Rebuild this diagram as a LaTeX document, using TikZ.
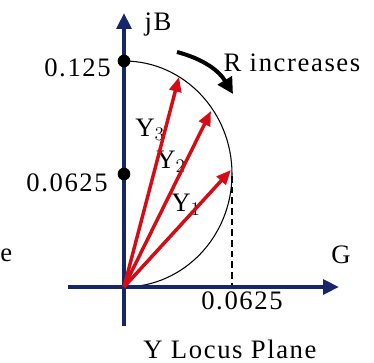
\documentclass[tikz,border=0pt]{standalone}
\usepackage{fontspec}
\setmainfont[LetterSpace=6]{Liberation Serif}
\usepackage{tikz}
\usetikzlibrary{arrows.meta}
\definecolor{axisblue}{RGB}{22,38,104}
\definecolor{vecred}{RGB}{212,12,22}

\begin{document}
\begin{tikzpicture}[x=0.75pt, y=-0.75pt,
		axis/.style={axisblue, line width=3pt, -{Triangle[length=12pt, width=11pt]}},
		vec/.style={vecred, line width=2.6pt, -{Triangle[length=11pt, width=9pt]}},
		lbl/.style={font=\fontsize{20}{24}\selectfont, inner sep=0pt},
		dot/.style={circle, fill=black, inner sep=0pt, minimum size=9.5pt}]
			\useasboundingbox (0, 0) rectangle (374, 363);
			% Points of the plane:
			\coordinate (O) at (124, 287);
			\coordinate (Xl) at (68, 287);
			\coordinate (Xr) at (339, 287);
			\coordinate (Yb) at (124, 326);
			\coordinate (Yt) at (124, 13);
			\coordinate (C) at (124, 174);
			\coordinate (Gm) at (232, 176);
			\coordinate (Gx) at (232, 287);
			\coordinate (T1) at (231, 170);
			\coordinate (T2) at (211, 111);
			\coordinate (T3) at (179, 77);
			\coordinate (Ra) at (177, 52);
			\coordinate (Rb) at (233, 94);
			% Locus and guide:
			\draw[line width=0.8pt] (124, 61) arc[start angle=90, end angle=-90, x radius=108, y radius=-113];
			\draw[line width=0.9pt, dash pattern=on 5pt off 3pt] (Gm) -- (Gx);
			% Axes:
			\draw[axis] (Xl) -- (Xr);
			\draw[axis] (Yb) -- (Yt);
			\node[dot](P1) at (124, 61){};
			\node[dot](P2) at (C){};
			% Labels:
			\node[lbl] (jB) at (158, 25){jB};
			\node[lbl, anchor=east] (L1) at (111, 68){0.125};
			\node[lbl, anchor=east] (L2) at (108, 183){0.0625};
			\node[lbl] (L3) at (242, 301){0.0625};
			\node[lbl] (G) at (341, 255){G};
			\node[lbl, anchor=west] (e) at (0, 255){e};
			\node[lbl] (R) at (292, 63){R increases};
			\node[lbl] (title) at (230, 349){Y Locus Plane};
			\node[lbl] (Y3) at (150, 130){Y$_3$};
			\node[lbl] (Y2) at (171, 162){Y$_2$};
			\node[lbl] (Y1) at (186, 205){Y$_1$};
			% Admittance vectors:
			\draw[vec] (O) -- (T1);
			\draw[vec] (O) -- (T2);
			\draw[vec] (O) -- (T3);
			\draw[line width=3pt, -{Triangle[length=12pt, width=12pt]}] (Ra) to[bend left=22] (Rb);
		\end{tikzpicture}
\end{document}
